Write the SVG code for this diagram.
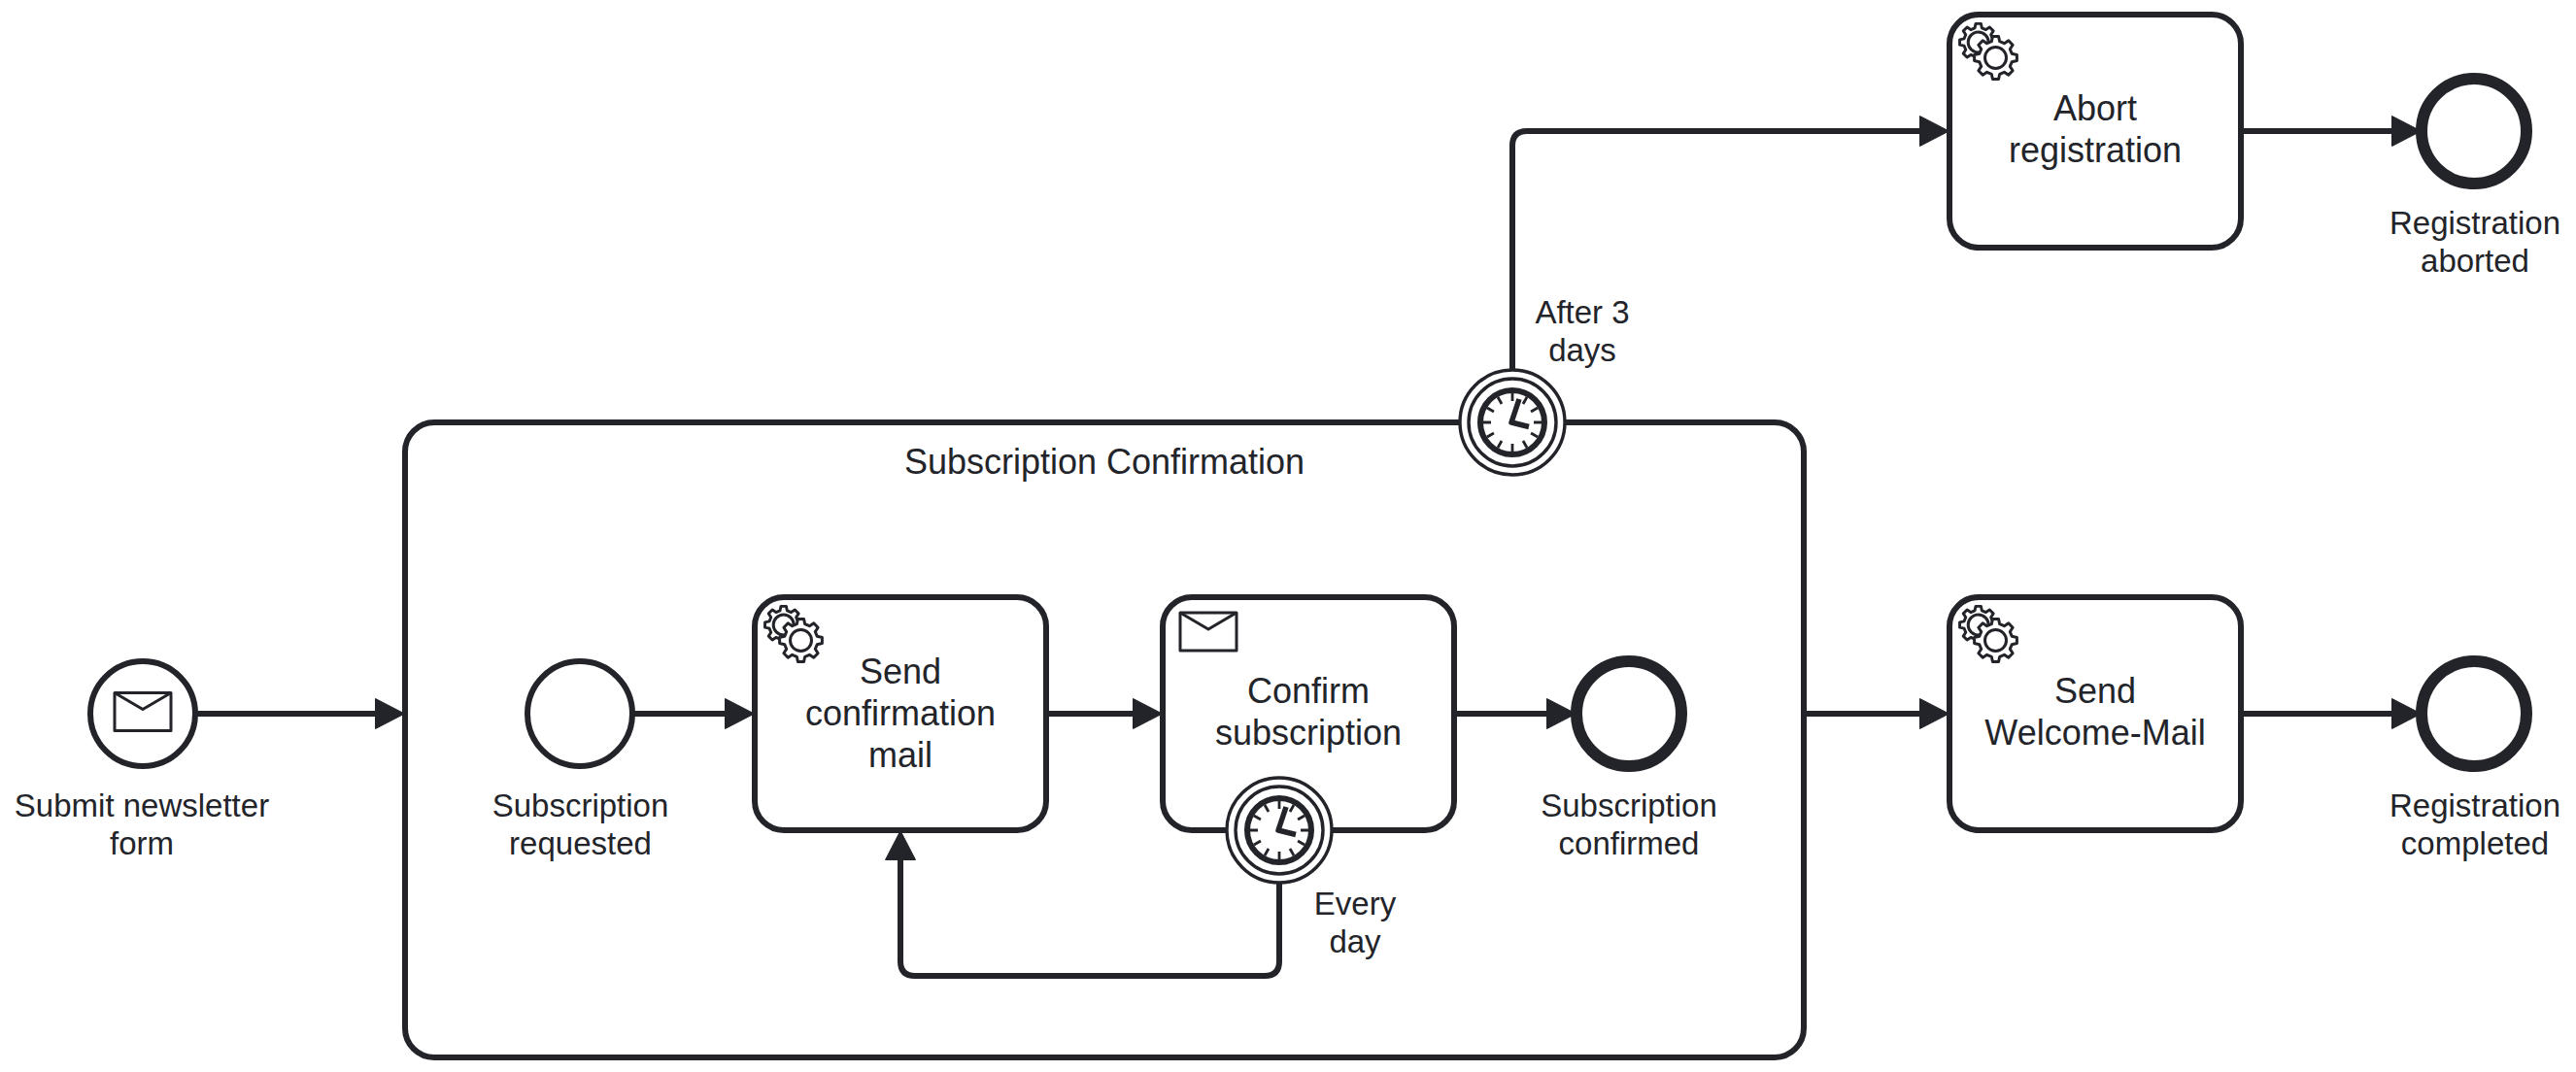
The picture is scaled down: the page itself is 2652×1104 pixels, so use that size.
<svg xmlns="http://www.w3.org/2000/svg" xmlns:xlink="http://www.w3.org/1999/xlink" width="2652" height="1104" viewBox="0 0 2652 1104">
  <style>
    .shape { fill: #fff; stroke: #22242a; stroke-width: 6; }
    .thin { fill: #fff; stroke: #22242a; stroke-width: 3.4; }
    .end { fill: #fff; stroke: #22242a; stroke-width: 12; }
    .icon { fill: #fff; stroke: #22242a; stroke-width: 3; stroke-linejoin: round; }
    .flow { fill: none; stroke: #22242a; stroke-width: 6; marker-end: url(#arrow); }
    text { font-family: "Liberation Sans", Arial, sans-serif; fill: #22242a; text-anchor: middle; }
    .lg { font-size: 36px; }
    .sm { font-size: 33px; }
  </style>
  <defs>
    <marker id="arrow" markerUnits="userSpaceOnUse" viewBox="0 0 31 32" refX="10" refY="16" markerWidth="31" markerHeight="32" orient="auto">
      <path d="M0.5,0.5 L30.5,16 L0.5,31.5 Z" fill="#22242a" stroke="#22242a" stroke-width="1" stroke-linejoin="round"/>
    </marker>
    <path id="gearShape" d="M-3.2,-22.8 L3.2,-22.8 L4.35,-17.5 L9.27,-15.43 L13.84,-18.37 L18.37,-13.84 L15.43,-9.27 L17.47,-4.35 L22.8,-3.2 L22.8,3.2 L17.47,4.35 L15.43,9.27 L18.37,13.84 L13.84,18.37 L9.27,15.43 L4.35,17.5 L3.2,22.8 L-3.2,22.8 L-4.35,17.5 L-9.27,15.43 L-13.84,18.37 L-18.37,13.84 L-15.43,9.27 L-17.47,4.35 L-22.8,3.2 L-22.8,-3.2 L-17.47,-4.35 L-15.43,-9.27 L-18.37,-13.84 L-13.84,-18.37 L-9.27,-15.43 L-4.35,-17.5 Z"/>
    <g id="gears">
      <use xlink:href="#gearShape" href="#gearShape" class="icon" transform="translate(29.7,28.5) scale(0.84)" style="stroke-width:3.5"/>
      <circle cx="29.7" cy="28.5" r="10.5" class="icon"/>
      <use xlink:href="#gearShape" href="#gearShape" class="icon" transform="translate(47.5,44.5) scale(0.96)" style="stroke-width:3.1"/>
      <circle cx="47.5" cy="44.5" r="11" class="icon"/>
    </g>
    <g id="mail">
      <rect x="0" y="0" width="58" height="39" class="icon"/>
      <path d="M0,0 L29,17 L58,0" class="icon" style="fill:none"/>
    </g>
    <g id="timer">
      <circle r="54" class="thin"/>
      <circle r="45" class="thin"/>
      <circle r="33" fill="#fff" stroke="#22242a" stroke-width="6"/>
      <g stroke="#22242a" stroke-width="2.8" fill="none">
        <path d="M0,-22 V-30 M0,22 V30 M-22,0 H-30 M22,0 H30 M11,-19.05 L15,-26 M-11,-19.05 L-15,-26 M11,19.05 L15,26 M-11,19.05 L-15,26 M19.05,-11 L26,-15 M-19.05,-11 L-26,-15 M19.05,11 L26,15 M-19.05,11 L-26,15"/>
      </g>
      <path d="M7,-24 L-1,0 L17,4.5" fill="none" stroke="#22242a" stroke-width="5.5" stroke-linejoin="round"/>
    </g>
  </defs>

  <g id="subprocess">
    <rect x="417" y="435" width="1440" height="654" rx="30" ry="30" class="shape"/>
    <text x="1137" y="488" class="lg">Subscription Confirmation</text>
  </g>

  <g id="connectors">
    <path class="flow" d="M201,735 H396"/>
    <path class="flow" d="M651,735 H756"/>
    <path class="flow" d="M1077,735 H1176"/>
    <path class="flow" d="M1497,735 H1602"/>
    <path class="flow" d="M1857,735 H1986"/>
    <path class="flow" d="M2307,735 H2472"/>
    <path class="flow" d="M2307,135 H2472"/>
    <path class="flow" d="M1557,381 V150 Q1557,135 1572,135 H1986"/>
    <path class="flow" d="M1317,909 V990 Q1317,1005 1302,1005 H942 Q927,1005 927,990 V876"/>
  </g>

  <g id="start-submit">
    <circle cx="147" cy="735" r="54" class="shape"/>
    <use xlink:href="#mail" href="#mail" transform="translate(118,713.5)"/>
    <text x="146" y="840.5" class="sm">Submit newsletter</text>
    <text x="146" y="879.5" class="sm">form</text>
  </g>
  <g id="start-requested">
    <circle cx="597" cy="735" r="54" class="shape"/>
    <text x="597.5" y="840.5" class="sm">Subscription</text>
    <text x="597.5" y="879.5" class="sm">requested</text>
  </g>
  <g id="task-send-confirmation">
    <rect x="777" y="615" width="300" height="240" rx="30" ry="30" class="shape"/>
    <use xlink:href="#gears" href="#gears" transform="translate(777,615)"/>
    <text x="927" y="703.5" class="lg">Send</text>
    <text x="927" y="746.5" class="lg">confirmation</text>
    <text x="927" y="789.5" class="lg">mail</text>
  </g>
  <g id="task-confirm-subscription">
    <rect x="1197" y="615" width="300" height="240" rx="30" ry="30" class="shape"/>
    <use xlink:href="#mail" href="#mail" transform="translate(1215,631)"/>
    <text x="1347" y="724" class="lg">Confirm</text>
    <text x="1347" y="766.5" class="lg">subscription</text>
  </g>
  <g id="boundary-every-day">
    <use xlink:href="#timer" href="#timer" transform="translate(1317,855)"/>
    <text x="1395" y="942" class="sm">Every</text>
    <text x="1395" y="981" class="sm">day</text>
  </g>
  <g id="end-confirmed">
    <circle cx="1677" cy="735" r="54" class="end"/>
    <text x="1677" y="840.5" class="sm">Subscription</text>
    <text x="1677" y="879.5" class="sm">confirmed</text>
  </g>
  <g id="boundary-after-3-days">
    <use xlink:href="#timer" href="#timer" transform="translate(1557,435)"/>
    <text x="1629" y="333" class="sm">After 3</text>
    <text x="1629" y="372" class="sm">days</text>
  </g>
  <g id="task-abort">
    <rect x="2007" y="15" width="300" height="240" rx="30" ry="30" class="shape"/>
    <use xlink:href="#gears" href="#gears" transform="translate(2007,15)"/>
    <text x="2157" y="124" class="lg">Abort</text>
    <text x="2157" y="167" class="lg">registration</text>
  </g>
  <g id="end-aborted">
    <circle cx="2547" cy="135" r="54" class="end"/>
    <text x="2548" y="240.5" class="sm">Registration</text>
    <text x="2548" y="279.5" class="sm">aborted</text>
  </g>
  <g id="task-welcome">
    <rect x="2007" y="615" width="300" height="240" rx="30" ry="30" class="shape"/>
    <use xlink:href="#gears" href="#gears" transform="translate(2007,615)"/>
    <text x="2157" y="724" class="lg">Send</text>
    <text x="2157" y="766.5" class="lg">Welcome-Mail</text>
  </g>
  <g id="end-completed">
    <circle cx="2547" cy="735" r="54" class="end"/>
    <text x="2548" y="840.5" class="sm">Registration</text>
    <text x="2548" y="879.5" class="sm">completed</text>
  </g>
</svg>
